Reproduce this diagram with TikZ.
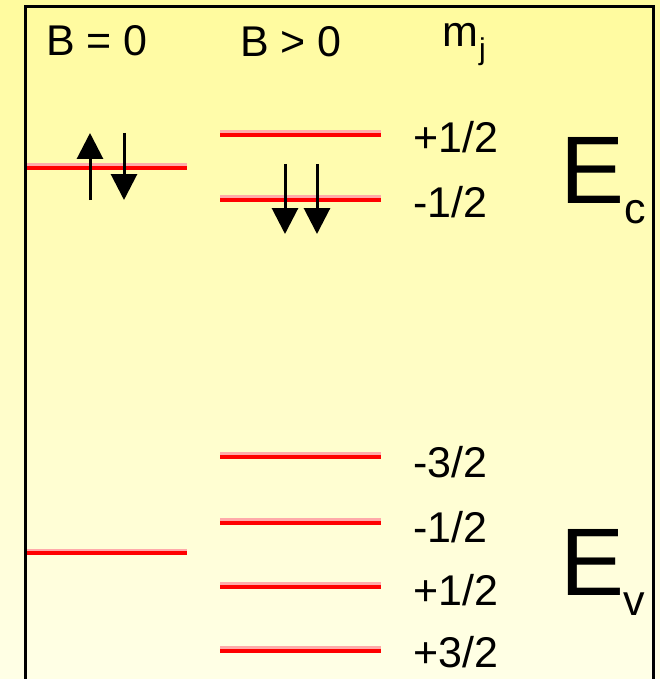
\documentclass[tikz,border=0pt]{standalone}
\usepackage{fontspec}
\setmainfont{Liberation Sans}
\usetikzlibrary{arrows.meta}
\definecolor{bgtop}{RGB}{255,251,158}
\definecolor{bgbot}{RGB}{255,255,230}
\definecolor{lvlred}{RGB}{255,0,0}
\definecolor{lvlshade}{RGB}{255,170,170}
\tikzset{
  lbl/.style={inner sep=0pt, anchor=base west, font=\fontsize{43}{48}\selectfont},
  bigE/.style={inner sep=0pt, anchor=base west, font=\fontsize{96}{100}\selectfont},
  subl/.style={inner sep=0pt, anchor=base west, font=\fontsize{43}{48}\selectfont},
  level/.style={draw=lvlred, line width=4pt},
  levelshade/.style={draw=lvlshade, line width=4pt},
  spin/.style={draw=black, line width=3pt, -{Triangle[width=26pt,length=26pt]}},
}
\begin{document}
\begin{tikzpicture}[x=1pt,y=-1pt]
\useasboundingbox (0,0) rectangle (660,679);
% background gradient as strips: yellow at top, pale at bottom
\foreach \i in {0,...,67}{
  \pgfmathtruncatemacro{\p}{100-\i*100/67}
  \fill[bgtop!\p!bgbot] (0,\i*10) rectangle (660,\i*10+10.5);
}
\draw[black, line width=3pt] (25,690) -- (25,7) -- (653,7) -- (653,690);
% headers
\node[lbl] (h0) at (46,56) {B = 0};
\node[lbl] (h1) at (240,57) {B > 0};
\node[lbl] (hm) at (442,47) {m};
\node[inner sep=0pt, anchor=base west, font=\fontsize{30}{34}\selectfont] (hj) at (479,60) {j};
% B=0 levels
\coordinate (c0a) at (27,168); \coordinate (c0b) at (187,168);
\coordinate (v0a) at (27,553); \coordinate (v0b) at (187,553);
\draw[levelshade] ([yshift=3pt]c0a) -- ([yshift=3pt]c0b);
\draw[level] (c0a) -- (c0b);
\draw[levelshade] ([yshift=2pt]v0a) -- ([yshift=2pt]v0b);
\draw[level] (v0a) -- (v0b);
% B>0 levels
\foreach \n/\y in {cp/135, cm/200, v1/457, v2/523, v3/587, v4/651}{
  \coordinate (\n a) at (220,\y); \coordinate (\n b) at (381,\y);
  \draw[levelshade] ([yshift=3pt]\n a) -- ([yshift=3pt]\n b);
  \draw[level] (\n a) -- (\n b);
}
% labels
\node[lbl] (lcp) at (413,153) {+1/2};
\node[lbl] (lcm) at (413,217) {-1/2};
\node[lbl] (lv1) at (413,477) {-3/2};
\node[lbl] (lv2) at (413,542) {-1/2};
\node[lbl] (lv3) at (413,605) {+1/2};
\node[lbl] (lv4) at (413,667) {+3/2};
\node[bigE] (Ec) at (560,203) {E};
\node[subl] (Ecs) at (624,223) {c};
\node[bigE] (Ev) at (560,595) {E};
\node[subl] (Evs) at (623,615) {v};
% spins
\coordinate (u1s) at (90,200); \coordinate (u1e) at (90,133);
\coordinate (d1s) at (124,133); \coordinate (d1e) at (124,200);
\draw[spin] (u1s) -- (u1e);
\draw[spin] (d1s) -- (d1e);
\coordinate (d2s) at (285,164); \coordinate (d2e) at (285,234);
\coordinate (d3s) at (317,164); \coordinate (d3e) at (317,234);
\draw[spin] (d2s) -- (d2e);
\draw[spin] (d3s) -- (d3e);
\end{tikzpicture}
\end{document}
